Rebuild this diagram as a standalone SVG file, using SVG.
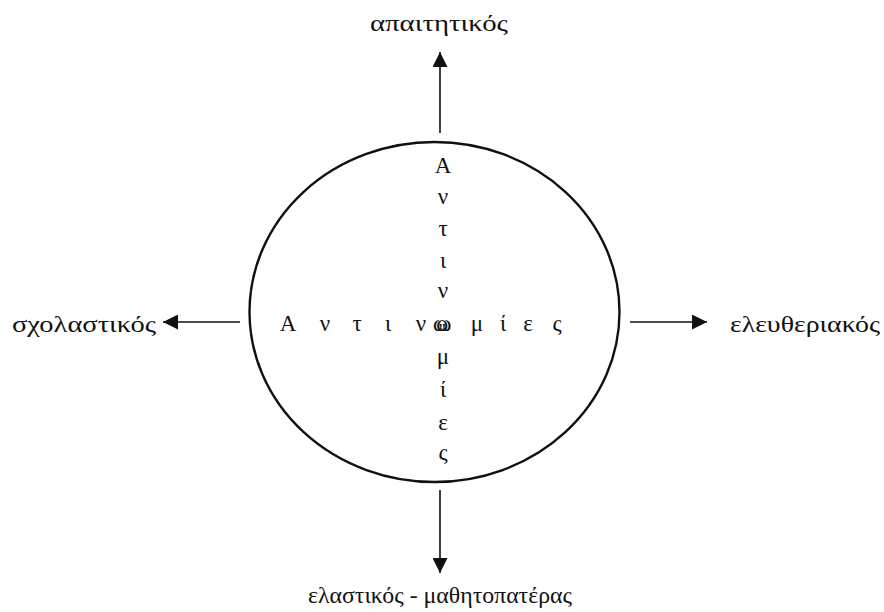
<svg xmlns="http://www.w3.org/2000/svg" width="884" height="612" viewBox="0 0 884 612">
<defs>
<style>
text{font-family:"Liberation Serif","DejaVu Serif",serif;font-size:23px;fill:#111}
.l{font-size:24px}
.c{text-anchor:middle}
.ln{stroke:#111;stroke-width:1.6;fill:none}
</style>
<marker id="ah" viewBox="0 0 10 10" refX="10" refY="5" markerWidth="25" markerHeight="15" markerUnits="userSpaceOnUse" orient="auto">
<path d="M0,0L10,5L0,10Z" fill="#111"/>
</marker>
</defs>
<rect width="884" height="612" fill="#fff"/>
<g id="circle">
<ellipse cx="434.5" cy="312" rx="185" ry="170" fill="none" stroke="#111" stroke-width="2.4"/>
</g>
<g id="center-word">
<text x="288" y="331" class="c">Α</text>
<text x="325" y="331" class="c">ν</text>
<text x="357" y="331" class="c">τ</text>
<text x="388" y="331" class="c">ι</text>
<text x="421" y="331" class="c">ν</text>
<text x="433" y="331">ω<tspan dx="-12">ω</tspan></text>
<text x="477" y="331" class="c">μ</text>
<text x="503" y="331" class="c">ί</text>
<text x="528" y="331" class="c">ε</text>
<text x="557" y="331" class="c">ς</text>
<text x="443" y="173" class="c">Α</text>
<text x="443" y="204" class="c">ν</text>
<text x="443" y="236" class="c">τ</text>
<text x="443" y="268" class="c">ι</text>
<text x="443" y="298" class="c">ν</text>
<text x="443" y="364" class="c">μ</text>
<text x="443" y="397" class="c">ί</text>
<text x="443" y="430" class="c">ε</text>
<text x="443" y="460" class="c">ς</text>
</g>
<g id="connectors">
<line class="ln" x1="440" y1="133" x2="440" y2="52" marker-end="url(#ah)"/>
<line class="ln" x1="440" y1="490" x2="440" y2="573" marker-end="url(#ah)"/>
<line class="ln" x1="240" y1="322" x2="163" y2="322" marker-end="url(#ah)"/>
<line class="ln" x1="630" y1="322" x2="707" y2="322" marker-end="url(#ah)"/>
</g>
<g id="top"><text class="l" x="370" y="31" textLength="138" lengthAdjust="spacingAndGlyphs">απαιτητικός</text></g>
<g id="left"><text class="l" x="12" y="332" textLength="144" lengthAdjust="spacingAndGlyphs">σχολαστικός</text></g>
<g id="right"><text class="l" x="730" y="332" textLength="150" lengthAdjust="spacingAndGlyphs">ελευθεριακός</text></g>
<g id="bottom"><text class="l" x="308" y="603" textLength="264" lengthAdjust="spacingAndGlyphs">ελαστικός - μαθητοπατέρας</text></g>
</svg>
